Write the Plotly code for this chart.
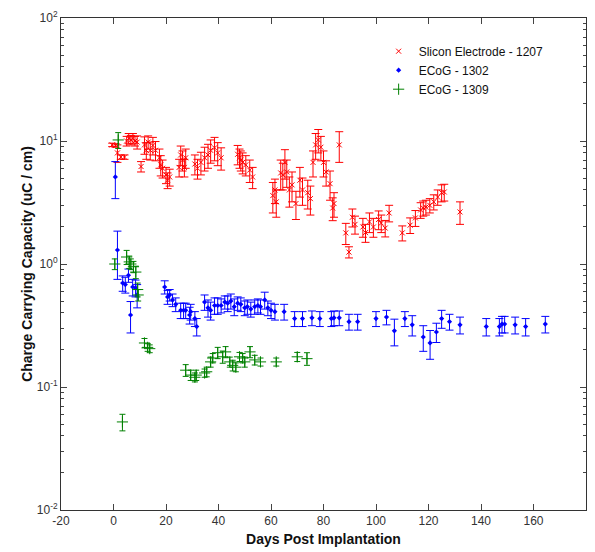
import plotly.graph_objects as go

# Slicon Electrode - 1207 (red)
red_days = [-0.5, 0.8, 1.5, 2.8, 4.2, 5, 5.8, 6.6, 7.4, 8.2, 9, 10.5, 11.8, 12.5, 13.2, 14, 15, 16,
            17.5, 18, 18.7, 20, 20.6, 21.4, 25, 25.6, 26.3, 27, 27.5, 31, 32, 33.3, 34.7, 36, 37,
            38.5, 39.7, 41, 47.3, 48, 48.5, 49.2, 50.4, 51.9, 53, 60.7, 61.5, 62, 63.7, 64.5, 65.3,
            66, 67, 68, 69.5, 71, 72, 74, 75, 76, 77, 78, 79, 80, 81, 82.5, 83.5, 84, 86, 88.5,
            89.7, 91, 92, 95, 96, 97.5, 99, 101, 102, 103.5, 105, 110, 113, 115, 117, 118, 119,
            120.5, 122, 123.5, 125, 126, 132]
red_vals = [9.3, 9.2, 8.0, 7.4, 7.4, 10.0, 10.5, 10.2, 10.5, 10.0, 9.8, 6.2, 9.3, 8.4, 9.8, 8.4, 9.2, 8.4,
            7.3, 6.4, 6.0, 5.3, 4.8, 5.1, 6.1, 7.7, 7.0, 6.1, 7.3, 6.5, 6.0, 6.7, 7.3, 7.7, 8.4,
            8.8, 8.0, 7.3, 7.8, 7.3, 7.0, 6.7, 6.4, 5.8, 5.1, 3.6, 4.0, 3.2, 5.5, 5.3, 6.7,
            5.6, 4.0, 4.4, 3.1, 4.8, 4.0, 3.8, 3.4, 6.7, 9.3, 10.2, 8.9, 6.7, 5.6, 4.5, 2.85, 3.1, 9.3, 1.79,
            1.25, 2.4, 2.1, 2.0, 1.8, 2.2, 2.0, 2.3, 2.15, 1.96, 2.6, 1.79, 2.07, 2.37, 2.75, 2.85, 2.9,
            3.0, 3.2, 3.5, 3.8, 3.85, 2.65]
red_err = [0.3, 0.3, 1.3, 0.3, 0.3, 0.9, 1.0, 0.9, 1.0, 0.9, 1.2, 0.6, 1.5, 1.3, 1.2, 1.4, 1.5, 1.5,
           1.3, 1.2, 1.0, 0.8, 0.7, 0.8, 1.0, 1.4, 1.3, 1.0, 1.3, 1.2, 1.1, 1.4, 1.6, 1.7, 1.8,
           1.9, 1.7, 1.5, 1.4, 1.3, 1.3, 1.3, 1.2, 1.2, 1.0, 1.0, 0.9, 0.8, 1.5, 1.3, 1.8,
           1.4, 1.1, 1.2, 0.8, 1.3, 1.0, 1.0, 0.9, 1.6, 2.2, 2.2, 2.0, 1.6, 1.3, 1.2, 0.6, 0.7, 2.6, 0.35,
           0.13, 0.4, 0.35, 0.35, 0.3, 0.4, 0.35, 0.4, 0.35, 0.3, 0.4, 0.25, 0.3, 0.35, 0.4, 0.4, 0.4,
           0.4, 0.45, 0.5, 0.6, 0.6, 0.55]

# ECoG - 1302 (blue)
blue_days = [0.7, 1.5, 3.5, 4.5, 5.7, 6.5, 7.3, 8.4, 9, 19.5, 20.6, 21.4, 22.5, 23.7, 25.6, 26.7, 27.5,
             29, 29.4, 31, 31.7, 34.7, 36, 37, 38.5, 39.7, 41, 42.4, 43.5, 44.7, 46, 47.3, 48.5, 50,
             51, 52.3, 53.8, 55, 56, 57.6, 58.8, 60, 61.5, 65, 69, 72, 75.6, 78.6, 83, 84, 86, 89.7,
             93, 100, 104, 107, 111, 113.8, 118, 120.6, 123, 125, 128, 132, 142, 147, 148, 149, 153,
             157, 164.5]
blue_vals = [5.1, 1.3, 0.70, 0.68, 0.81, 0.385, 0.65, 0.64, 0.56, 0.65, 0.54, 0.56, 0.51, 0.47, 0.42, 0.42, 0.42,
             0.385, 0.41, 0.36, 0.31, 0.49, 0.44, 0.42, 0.46, 0.46, 0.46, 0.49, 0.48, 0.50, 0.45, 0.48, 0.47, 0.44,
             0.45, 0.43, 0.45, 0.46, 0.45, 0.51, 0.44, 0.42, 0.41, 0.41, 0.36, 0.36, 0.365, 0.36, 0.36, 0.365, 0.365, 0.34,
             0.34, 0.36, 0.37, 0.286, 0.36, 0.32, 0.255, 0.228, 0.28, 0.36, 0.34, 0.32, 0.31, 0.31, 0.325, 0.325, 0.32,
             0.31, 0.325]
blue_err = [1.7, 0.55, 0.1, 0.1, 0.1, 0.11, 0.1, 0.1, 0.12, 0.08, 0.07, 0.06, 0.06, 0.06, 0.06, 0.06, 0.06,
            0.06, 0.06, 0.05, 0.05, 0.07, 0.07, 0.07, 0.07, 0.07, 0.06, 0.06, 0.07, 0.07, 0.07, 0.06, 0.06, 0.06,
            0.06, 0.06, 0.06, 0.06, 0.06, 0.08, 0.06, 0.06, 0.06, 0.06, 0.05, 0.05, 0.05, 0.05, 0.05, 0.05, 0.05, 0.05,
            0.05, 0.05, 0.05, 0.07, 0.05, 0.06, 0.06, 0.06, 0.05, 0.06, 0.05, 0.05, 0.05, 0.05, 0.05, 0.05, 0.05,
            0.05, 0.05]

# ECoG - 1309 (green)
green_days = [0.5, 1.8, 3.4, 5, 6, 6.6, 7.6, 8.5, 9.2, 9.4, 11.8, 13, 13.8, 27.5, 29.4, 31, 31.5, 34.7,
              35.5, 37, 37.8, 39.7, 41.6, 42.7, 44.3, 45.4, 46.6, 48, 49.2, 50, 52, 53.8, 56, 62, 70, 73.7]
green_vals = [1.0, 10.2, 0.052, 1.14, 1.04, 1.0, 0.95, 0.86, 0.62, 0.56, 0.228, 0.21, 0.205, 0.137, 0.125,
              0.12, 0.125, 0.13, 0.133, 0.16, 0.172, 0.19, 0.176, 0.193, 0.16, 0.15, 0.145, 0.176, 0.172,
              0.16, 0.193, 0.166, 0.16, 0.16, 0.176, 0.17]
green_err = [0.1, 1.5, 0.008, 0.15, 0.12, 0.1, 0.1, 0.1, 0.08, 0.06, 0.02, 0.015, 0.015, 0.015, 0.012,
             0.01, 0.012, 0.01, 0.012, 0.015, 0.015, 0.02, 0.02, 0.02, 0.015, 0.015, 0.012, 0.015, 0.015,
             0.015, 0.02, 0.015, 0.012, 0.012, 0.015, 0.02]

x_ticks = [-20, 0, 20, 40, 60, 80, 100, 120, 140, 160, 180]
x_tick_text = ["-20", "0", "20", "40", "60", "80", "100", "120", "140", "160", "180"]
y_ticks = [0.01, 0.1, 1, 10, 100]
y_tick_text = ["10<sup>-2</sup>", "10<sup>-1</sup>", "10<sup>0</sup>", "10<sup>1</sup>", "10<sup>2</sup>"]

RED = "#ff0000"
BLUE = "#0000ff"
GREEN = "#008000"

fig = go.Figure()
fig.add_trace(go.Scatter(
    x=red_days, y=red_vals, mode="markers", name="Slicon Electrode - 1207",
    marker=dict(symbol="x-thin", size=5, line=dict(color=RED, width=1), color=RED),
    error_y=dict(type="data", array=red_err, color=RED, thickness=1, width=4),
))
fig.add_trace(go.Scatter(
    x=blue_days, y=blue_vals, mode="markers", name="ECoG - 1302",
    marker=dict(symbol="diamond", size=4, color=BLUE),
    error_y=dict(type="data", array=blue_err, color=BLUE, thickness=1, width=4),
))
fig.add_trace(go.Scatter(
    x=green_days, y=green_vals, mode="markers", name="ECoG - 1309",
    marker=dict(symbol="cross-thin", size=8, line=dict(color=GREEN, width=1), color=GREEN),
    error_y=dict(type="data", array=green_err, color=GREEN, thickness=1, width=3),
))

minor_vals = [m * 10 ** e for e in range(-2, 2) for m in range(2, 10)]

fig.update_layout(
    width=587, height=544,
    margin=dict(l=53, r=9, t=10, b=42, autoexpand=False),
    paper_bgcolor="white", plot_bgcolor="white",
    font=dict(family="Liberation Sans, Arial, sans-serif", size=12, color="#222"),
    showlegend=True,
    legend=dict(x=0.605, y=0.962, xanchor="left", yanchor="top", bgcolor="rgba(0,0,0,0)",
                font=dict(size=12, color="#111"), tracegroupgap=0, itemwidth=30),
)
fig.update_xaxes(
    range=[-20, 180], tickmode="array", tickvals=x_ticks, ticktext=x_tick_text, ticks="inside", ticklen=6,
    showline=True, linecolor="#333", linewidth=1, mirror="allticks", showgrid=False, zeroline=False,
    tickfont=dict(size=12, color="#333"), automargin=False,
    title=dict(text="<b>Days Post Implantation</b>", font=dict(size=14, color="#111"), standoff=6),
)
fig.update_yaxes(
    type="log", range=[-2, 2], tickmode="array", tickvals=y_ticks, ticktext=y_tick_text,
    ticks="inside", ticklen=6, showline=True, linecolor="#333", linewidth=1, mirror="allticks",
    showgrid=False, zeroline=False, tickfont=dict(size=12, color="#333"), automargin=False,
    minor=dict(tickmode="array", tickvals=minor_vals, ticks="inside", ticklen=3, showgrid=False),
    title=dict(text="<b>Charge Carrying Capacity (uC / cm)</b>", font=dict(size=14, color="#111"), standoff=0),
)

fig.write_html("out.html")
